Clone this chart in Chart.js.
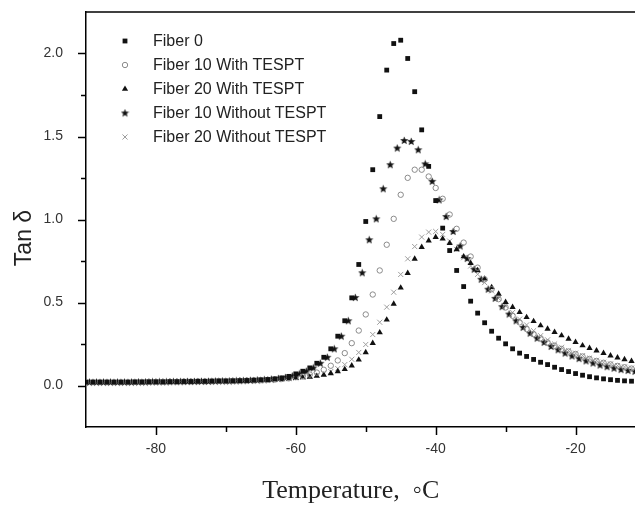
<!DOCTYPE html>
<html>
<head>
<meta charset="utf-8">
<script src="https://cdn.jsdelivr.net/npm/chart.js@4/dist/chart.umd.min.js"></script>
<style>
  html, body { margin: 0; padding: 0; background: #fff; }
  canvas { display: block; }
</style>
</head>
<body>
<canvas id="dma-chart" width="635" height="507"></canvas>
<script>
// temperatures (°C) shared by most series
const temps = [
  -90, -89, -88, -87, -86, -85, -84, -83, -82, -81,
  -80, -79, -78, -77, -76, -75, -74, -73, -72, -71,
  -70, -69, -68, -67, -66, -65, -64, -63, -62, -61,
  -60, -59, -58, -57, -56, -55, -54, -53, -52, -51,
  -50, -49, -48, -47, -46, -45, -44, -43, -42, -41,
  -40, -39, -38, -37, -36, -35, -34, -33, -32, -31,
  -30, -29, -28, -27, -26, -25, -24, -23, -22, -21,
  -20, -19, -18, -17, -16, -15, -14, -13, -12
];
// the "Fiber 10 Without TESPT" run was sampled half a degree later
const tempsStar = [
  -89.5, -88.5, -87.5, -86.5, -85.5, -84.5, -83.5, -82.5, -81.5, -80.5,
  -79.5, -78.5, -77.5, -76.5, -75.5, -74.5, -73.5, -72.5, -71.5, -70.5,
  -69.5, -68.5, -67.5, -66.5, -65.5, -64.5, -63.5, -62.5, -61.5, -60.5,
  -59.5, -58.5, -57.5, -56.5, -55.5, -54.5, -53.5, -52.5, -51.5, -50.5,
  -49.5, -48.5, -47.5, -46.5, -45.5, -44.5, -43.5, -42.5, -41.5, -40.5,
  -39.5, -38.5, -37.5, -36.5, -35.5, -34.5, -33.5, -32.5, -31.5, -30.5,
  -29.5, -28.5, -27.5, -26.5, -25.5, -24.5, -23.5, -22.5, -21.5, -20.5,
  -19.5, -18.5, -17.5, -16.5, -15.5, -14.5, -13.5, -12.5, -11.5
];

const fiber0 = [
  0.02, 0.02, 0.02, 0.02, 0.02, 0.02, 0.02, 0.021, 0.021, 0.022,
  0.022, 0.022, 0.023, 0.023, 0.024, 0.024, 0.025, 0.025, 0.026, 0.027,
  0.027, 0.028, 0.029, 0.030, 0.032, 0.034, 0.036, 0.040, 0.046, 0.055,
  0.070, 0.086, 0.106, 0.134, 0.170, 0.221, 0.297, 0.390, 0.528, 0.729,
  0.988, 1.30, 1.62, 1.90, 2.06, 2.08, 1.97, 1.77, 1.54, 1.32,
  1.114, 0.948, 0.813, 0.693, 0.596, 0.508, 0.436, 0.378, 0.327, 0.285,
  0.251, 0.221, 0.195, 0.175, 0.157, 0.140, 0.126, 0.110, 0.096, 0.084,
  0.072, 0.062, 0.053, 0.046, 0.040, 0.035, 0.031, 0.028, 0.026
];
const fiber10With = [
  0.02, 0.02, 0.02, 0.02, 0.02, 0.02, 0.02, 0.021, 0.021, 0.022,
  0.022, 0.022, 0.023, 0.023, 0.024, 0.024, 0.025, 0.025, 0.026, 0.027,
  0.027, 0.028, 0.029, 0.030, 0.031, 0.032, 0.034, 0.036, 0.039, 0.043,
  0.050, 0.057, 0.066, 0.078, 0.095, 0.119, 0.151, 0.195, 0.255, 0.331,
  0.428, 0.548, 0.693, 0.848, 1.004, 1.149, 1.251, 1.30, 1.30, 1.259,
  1.19, 1.125, 1.03, 0.944, 0.861, 0.777, 0.71, 0.64, 0.58, 0.52,
  0.47, 0.42, 0.38, 0.34, 0.31, 0.285, 0.26, 0.24, 0.22, 0.205,
  0.19, 0.175, 0.16, 0.148, 0.137, 0.127, 0.118, 0.11, 0.102
];
const fiber20With = [
  0.02, 0.02, 0.02, 0.02, 0.02, 0.02, 0.02, 0.021, 0.021, 0.022,
  0.022, 0.022, 0.023, 0.023, 0.024, 0.024, 0.025, 0.025, 0.026, 0.027,
  0.027, 0.028, 0.029, 0.030, 0.031, 0.032, 0.034, 0.036, 0.038, 0.041,
  0.044, 0.048, 0.052, 0.057, 0.064, 0.073, 0.085, 0.098, 0.120, 0.155,
  0.199, 0.255, 0.319, 0.396, 0.492, 0.589, 0.677, 0.763, 0.833, 0.873,
  0.894, 0.884, 0.857, 0.82, 0.777, 0.737, 0.693, 0.643, 0.592, 0.552,
  0.502, 0.472, 0.441, 0.411, 0.387, 0.361, 0.341, 0.321, 0.301, 0.281,
  0.261, 0.241, 0.225, 0.21, 0.195, 0.18, 0.168, 0.157, 0.147
];
const fiber10Without = [
  0.02, 0.02, 0.02, 0.02, 0.02, 0.02, 0.02, 0.021, 0.021, 0.022,
  0.022, 0.022, 0.023, 0.023, 0.024, 0.024, 0.025, 0.025, 0.026, 0.027,
  0.027, 0.028, 0.029, 0.031, 0.033, 0.035, 0.038, 0.042, 0.048, 0.057,
  0.070, 0.086, 0.106, 0.134, 0.170, 0.221, 0.297, 0.390, 0.530, 0.679,
  0.878, 1.004, 1.185, 1.33, 1.43, 1.476, 1.47, 1.42, 1.335, 1.23,
  1.118, 1.018, 0.928, 0.84, 0.765, 0.70, 0.64, 0.58, 0.525, 0.475,
  0.43, 0.39, 0.35, 0.315, 0.285, 0.26, 0.235, 0.215, 0.195, 0.178,
  0.162, 0.148, 0.135, 0.123, 0.113, 0.104, 0.096, 0.09, 0.085
];
const fiber20Without = [
  0.02, 0.02, 0.02, 0.02, 0.02, 0.02, 0.02, 0.021, 0.021, 0.022,
  0.022, 0.022, 0.023, 0.023, 0.024, 0.024, 0.025, 0.025, 0.026, 0.027,
  0.027, 0.028, 0.029, 0.030, 0.031, 0.032, 0.034, 0.036, 0.038, 0.041,
  0.045, 0.050, 0.056, 0.063, 0.072, 0.084, 0.102, 0.126, 0.158, 0.199,
  0.247, 0.307, 0.381, 0.472, 0.562, 0.669, 0.763, 0.837, 0.894, 0.924,
  0.928, 0.91, 0.87, 0.82, 0.77, 0.72, 0.67, 0.62, 0.57, 0.525,
  0.48, 0.44, 0.40, 0.365, 0.33, 0.30, 0.275, 0.25, 0.23, 0.21,
  0.195, 0.18, 0.165, 0.152, 0.14, 0.13, 0.12, 0.112, 0.105
];

const seriesLabels = [
  "Fiber 0",
  "Fiber 10 With TESPT",
  "Fiber 20 With TESPT",
  "Fiber 10 Without TESPT",
  "Fiber 20 Without TESPT",
];

// small filled five-point star, Chart.js's own 'star' is only strokes
function makeStar() {
  const c = document.createElement("canvas");
  c.width = 9;
  c.height = 9;
  const g = c.getContext("2d");
  g.fillStyle = "#111";
  g.beginPath();
  for (let i = 0; i < 10; i++) {
    const r = i % 2 === 0 ? 4.3 : 1.9;
    const a = -Math.PI / 2 + (i * Math.PI) / 5;
    g.lineTo(4.5 + r * Math.cos(a), 4.7 + r * Math.sin(a));
  }
  g.closePath();
  g.fill();
  return c;
}
const starImg = makeStar();

function pairs(xs, ys) {
  return xs.map((t, i) => ({ x: t, y: ys[i] }));
}

const datasets = [
  {
    label: seriesLabels[0],
    data: pairs(temps, fiber0),
    pointStyle: "rect",
    pointRadius: 3.4,
    backgroundColor: "#111",
    borderColor: "#111",
    borderWidth: 0,
  },
  {
    label: seriesLabels[1],
    data: pairs(temps, fiber10With),
    pointStyle: "circle",
    pointRadius: 2.7,
    backgroundColor: "rgba(0,0,0,0)",
    borderColor: "#8a8a8a",
    borderWidth: 1,
  },
  {
    label: seriesLabels[2],
    data: pairs(temps, fiber20With),
    pointStyle: "triangle",
    pointRadius: 3.6,
    backgroundColor: "#111",
    borderColor: "#111",
    borderWidth: 0,
  },
  {
    label: seriesLabels[3],
    data: pairs(tempsStar, fiber10Without),
    pointStyle: starImg,
    pointRadius: 4,
    backgroundColor: "#111",
    borderColor: "#111",
    borderWidth: 0,
  },
  {
    label: seriesLabels[4],
    data: pairs(temps, fiber20Without),
    pointStyle: "crossRot",
    pointRadius: 3.6,
    backgroundColor: "#9e9e9e",
    borderColor: "#9e9e9e",
    borderWidth: 1,
  },
];

// ticks, top frame line, y title and the in-plot legend
const framePlugin = {
  id: "frame",
  afterDraw(chart) {
    const { ctx, chartArea } = chart;
    const xs = chart.scales.x;
    const ys = chart.scales.y;
    ctx.save();
    ctx.strokeStyle = "#000";
    ctx.lineWidth = 1.5;

    ctx.beginPath();
    ctx.moveTo(chartArea.left, chartArea.top);
    ctx.lineTo(chartArea.right, chartArea.top);
    ctx.stroke();

    xs.ticks.forEach((t) => {
      if (t.value <= xs.min || t.value >= xs.max) return;
      const px = Math.round(xs.getPixelForValue(t.value)) + 0.5;
      const len = t.value % 20 === 0 ? 8 : 5;
      ctx.beginPath();
      ctx.moveTo(px, chartArea.bottom);
      ctx.lineTo(px, chartArea.bottom + len);
      ctx.stroke();
    });
    ys.ticks.forEach((t) => {
      if (t.value <= ys.min || t.value >= ys.max) return;
      const py = Math.round(ys.getPixelForValue(t.value)) + 0.5;
      const major = Math.abs(t.value * 2 - Math.round(t.value * 2)) < 1e-6;
      const len = major ? 8 : 5;
      ctx.beginPath();
      ctx.moveTo(chartArea.left, py);
      ctx.lineTo(chartArea.left - len, py);
      ctx.stroke();
    });

    // y axis title
    ctx.save();
    ctx.translate(25, 238);
    ctx.rotate(-Math.PI / 2);
    ctx.font = "23px 'Liberation Sans', Arial, sans-serif";
    ctx.fillStyle = "#222";
    ctx.textAlign = "center";
    ctx.textBaseline = "middle";
    ctx.fillText("Tan \u03B4", 0, 0);
    ctx.restore();

    // legend
    ctx.font = "16px 'Liberation Sans', Arial, sans-serif";
    ctx.textBaseline = "middle";
    ctx.textAlign = "left";
    chart.data.datasets.forEach((ds, i) => {
      const y = 41 + i * 24;
      ctx.fillStyle = ds.backgroundColor;
      ctx.strokeStyle = ds.borderColor;
      ctx.lineWidth = ds.borderWidth || 1;
      Chart.helpers.drawPoint(
        ctx,
        { pointStyle: ds.pointStyle, radius: ds.pointRadius, rotation: 0, borderWidth: ds.borderWidth },
        125,
        y
      );
      ctx.fillStyle = "#222";
      ctx.fillText(ds.label, 153, y + 1);
    });
    ctx.restore();
  },
};

new Chart(document.getElementById("dma-chart").getContext("2d"), {
  type: "scatter",
  data: { datasets },
  options: {
    responsive: false,
    animation: false,
    devicePixelRatio: 1,
    layout: { autoPadding: false, padding: { top: 12, right: 0, left: 0, bottom: 0 } },
    plugins: {
      legend: { display: false },
      tooltip: { enabled: false },
    },
    scales: {
      x: {
        type: "linear",
        min: -90,
        max: -11.5,
        afterFit: (s) => {
          s.height = 80;
          s.paddingLeft = 0;
          s.paddingRight = 0;
        },
        grid: { display: false },
        border: { display: true, color: "#000", width: 1.5 },
        ticks: {
          stepSize: 10,
          includeBounds: false,
          autoSkip: false,
          maxRotation: 0,
          padding: 6,
          color: "#333",
          font: { family: "'Liberation Sans', Arial, sans-serif", size: 14 },
          callback: (v) => (v % 20 === 0 ? String(v) : ""),
        },
        title: {
          display: true,
          text: "Temperature,  \u25E6C   ",
          color: "#222",
          font: { family: "'Liberation Serif', 'Times New Roman', serif", size: 26 },
          padding: { top: 0, bottom: 0 },
        },
      },
      y: {
        type: "linear",
        min: -0.25,
        max: 2.25,
        afterFit: (s) => {
          s.width = 86;
          s.paddingTop = 0;
          s.paddingBottom = 0;
        },
        grid: { display: false },
        border: { display: true, color: "#000", width: 1.5 },
        ticks: {
          stepSize: 0.25,
          includeBounds: false,
          autoSkip: false,
          padding: 15,
          color: "#333",
          font: { family: "'Liberation Sans', Arial, sans-serif", size: 14 },
          callback: (v) =>
            Math.abs(v * 2 - Math.round(v * 2)) < 1e-6 ? v.toFixed(1) : "",
        },
      },
    },
  },
  plugins: [framePlugin],
});
</script>
</body>
</html>
